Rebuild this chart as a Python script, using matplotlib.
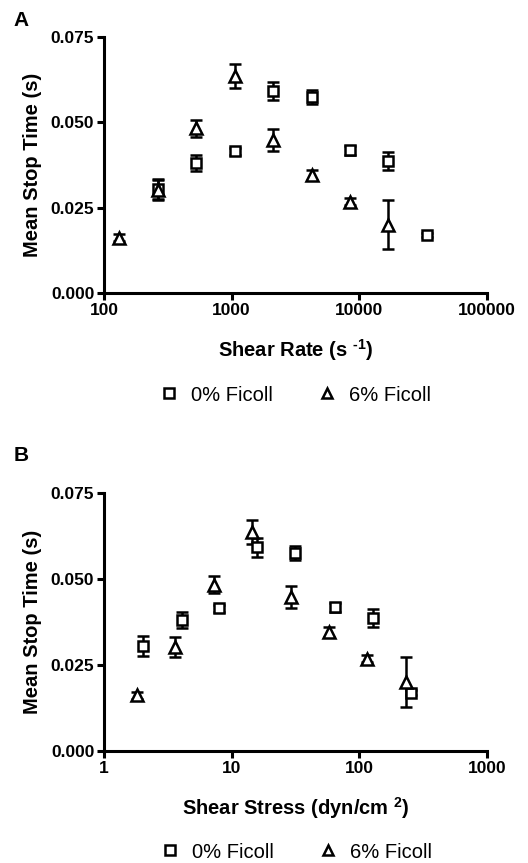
import matplotlib
matplotlib.use("Agg")
import matplotlib.pyplot as plt
import numpy as np

plt.rcParams['font.family'] = ['Liberation Sans', 'DejaVu Sans']
plt.rcParams['mathtext.fontset'] = 'custom'
plt.rcParams['mathtext.rm'] = 'Liberation Sans:bold'
plt.rcParams['mathtext.bf'] = 'Liberation Sans:bold'

# ---- data ----
rate_0 = [264, 528, 1056, 2112, 4224, 8448, 16896, 33792]
stress_0 = [2.03, 4.05, 8.0, 15.8, 31.6, 64, 128, 254]
mean_0 = [0.0305, 0.0380, 0.0415, 0.0592, 0.0575, 0.0418, 0.0387, 0.0170]
sem_0 = [0.0030, 0.0023, 0.0010, 0.0027, 0.0020, 0.0013, 0.0027, 0.0007]

rate_6 = [132, 264, 528, 1056, 2112, 4224, 8448, 16896]
stress_6 = [1.82, 3.63, 7.24, 14.5, 28.9, 58, 115, 230]
mean_6 = [0.0162, 0.0302, 0.0483, 0.0636, 0.0448, 0.0345, 0.0268, 0.0200]
sem_6 = [0.0010, 0.0030, 0.0025, 0.0035, 0.0033, 0.0015, 0.0010, 0.0072]

labels = ['0% Ficoll', '6% Ficoll']
yticks = [0.0, 0.025, 0.05, 0.075]
ytick_labels = ['0.000', '0.025', '0.050', '0.075']

fig = plt.figure(figsize=(5.28, 8.63), dpi=100)

W, H = 528, 863
def axrect(x0, x1, ytop, ybot):
    return [x0 / W, 1 - ybot / H, (x1 - x0) / W, (ybot - ytop) / H]

axA = fig.add_axes(axrect(104, 487, 37, 293))
axB = fig.add_axes(axrect(104, 487, 493, 751))

common = dict(linestyle='none', mfc='white', mec='black', mew=1.8,
              ecolor='black', elinewidth=1.8, capsize=4, capthick=1.8)

def style(ax, xlim, xticks, xticklabels, xlabel):
    ax.set_xscale('log')
    ax.set_xlim(*xlim)
    ax.set_ylim(0, 0.075)
    ax.set_xticks(xticks)
    ax.set_xticklabels(xticklabels)
    ax.minorticks_off()
    ax.set_yticks(yticks)
    ax.set_yticklabels(ytick_labels)
    for s in ['top', 'right']:
        ax.spines[s].set_visible(False)
    for s in ['left', 'bottom']:
        ax.spines[s].set_linewidth(2.2)
    ax.tick_params(axis='both', which='major', length=5, width=2.2,
                   direction='out', labelsize=12.5, pad=2)
    for t in ax.get_xticklabels() + ax.get_yticklabels():
        t.set_fontweight('bold')
    ax.set_ylabel('Mean Stop Time (s)', fontsize=14.5, fontweight='bold', labelpad=6)
    ax.set_xlabel(xlabel, fontsize=14.5, fontweight='bold', labelpad=14)
    ax.patch.set_alpha(0)

# Panel A
axA.errorbar(rate_0, mean_0, yerr=sem_0, marker='s', ms=7, clip_on=False, **common)
axA.errorbar(rate_6, mean_6, yerr=sem_6, marker='^', ms=8, clip_on=False, **common)
style(axA, (100, 100000), [100, 1000, 10000, 100000],
      ['100', '1000', '10000', '100000'], r'Shear Rate (s $^{\text{-1}}$)')

# Panel B
axB.errorbar(stress_0, mean_0, yerr=sem_0, marker='s', ms=7, clip_on=False, **common)
axB.errorbar(stress_6, mean_6, yerr=sem_6, marker='^', ms=8, clip_on=False, **common)
style(axB, (1, 1000), [1, 10, 100, 1000],
      ['1', '10', '100', '1000'], r'Shear Stress (dyn/cm $^{2}$)')

from matplotlib.lines import Line2D
h0 = Line2D([], [], linestyle='none', marker='s', ms=6.5, mfc='white', mec='black', mew=1.8)
h6 = Line2D([], [], linestyle='none', marker='^', ms=7, mfc='white', mec='black', mew=1.8)

fig.legend([h0, h6], labels, loc='center', bbox_to_anchor=(295 / W, 1 - 395 / H),
           ncol=2, frameon=False, fontsize=14.5, handlelength=1.0,
           handletextpad=0.6, columnspacing=2.2)
fig.legend([h0, h6], labels, loc='center', bbox_to_anchor=(296 / W, 1 - 852 / H),
           ncol=2, frameon=False, fontsize=14.5, handlelength=1.0,
           handletextpad=0.6, columnspacing=2.2)

fig.text(21 / W, 1 - 20 / H, 'A', fontsize=15, fontweight='bold', ha='center', va='center')
fig.text(21 / W, 1 - 455 / H, 'B', fontsize=15, fontweight='bold', ha='center', va='center')

fig.savefig('out.png', dpi=100)
